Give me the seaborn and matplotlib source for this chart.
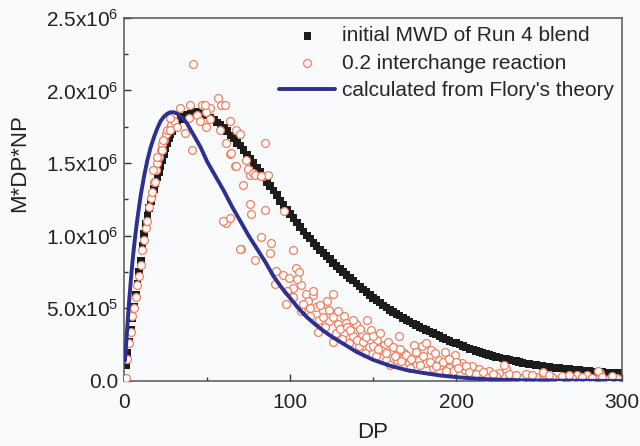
import numpy as np
import pandas as pd
import matplotlib
matplotlib.use('Agg')
import matplotlib.pyplot as plt
from matplotlib.ticker import FixedLocator
import seaborn as sns

# initial MWD of Run 4 blend (values in 1e6)
mwd_dp = list(range(1, 31)) + list(range(32, 101, 2)) + list(range(102, 301, 2))
mwd_val = [0.11, 0.19, 0.27, 0.35, 0.43, 0.51, 0.59, 0.67, 0.75, 0.83,
           0.93, 1.01, 1.08, 1.14, 1.19, 1.24, 1.28, 1.32, 1.36, 1.40,
           1.44, 1.48, 1.52, 1.56, 1.60, 1.64, 1.67, 1.70, 1.72, 1.74,
           1.77, 1.80, 1.82, 1.83, 1.84, 1.85, 1.85, 1.85, 1.84, 1.83,
           1.81, 1.80, 1.78, 1.76, 1.74, 1.72, 1.69, 1.67, 1.64, 1.62,
           1.59, 1.56, 1.53, 1.50, 1.47, 1.44, 1.41, 1.37, 1.34, 1.31,
           1.28, 1.24, 1.21, 1.18, 1.15,
           1.12, 1.09, 1.06, 1.03, 1.00, 0.98, 0.95, 0.93, 0.90, 0.88,
           0.86, 0.84, 0.81, 0.79, 0.77, 0.75, 0.73, 0.71, 0.69, 0.67,
           0.65, 0.63, 0.61, 0.59, 0.57, 0.555, 0.54, 0.52, 0.505, 0.49,
           0.475, 0.46, 0.45, 0.435, 0.42, 0.41, 0.395, 0.385, 0.37, 0.36,
           0.35, 0.34, 0.33, 0.32, 0.31, 0.295, 0.285, 0.275, 0.265, 0.26,
           0.25, 0.24, 0.23, 0.22, 0.215, 0.205, 0.20, 0.19, 0.185, 0.18,
           0.17, 0.165, 0.16, 0.155, 0.15, 0.145, 0.14, 0.135, 0.13, 0.125,
           0.121, 0.117, 0.113, 0.109, 0.105, 0.102, 0.099, 0.096, 0.093, 0.09,
           0.087, 0.085, 0.082, 0.08, 0.077, 0.075, 0.073, 0.071, 0.069, 0.067,
           0.065, 0.063, 0.062, 0.060, 0.059, 0.057, 0.056, 0.055, 0.054, 0.053]

# 0.2 interchange reaction (values in 1e6)
rx_dp = [1, 2, 3, 4, 5, 6, 7, 8, 9, 10, 11, 12, 13, 14, 15, 16, 17, 18, 19, 20,
         21, 22, 23, 24, 25, 26, 28, 30,
         33.6, 39.6, 46.6, 51.6, 56.6, 58.6, 49.6, 43.6, 45.6, 49.6, 57.6, 63.6,
         67.6, 36.6, 31.6, 27.6, 23.6, 22.6, 40.6, 61.6, 63.6, 84.6, 73.6, 66.6,
         75.6, 19.6, 17.6, 18.6, 83.6, 41.6, 60.6, 86.6, 71.6, 75.6, 76.6, 84.6,
         96.6, 61.6, 63.6, 70.6, 82.6, 88.6, 101.6, 87.6, 48.6, 51.6, 69.6, 64.6,
         74.6, 77.6, 38.8, 27.6, 67.6, 78.6, 82.6, 59.6, 69.6, 78.6,
         103.6, 105.6, 91.6, 95.6, 99.6, 90.6, 101.6, 106.6, 109.6, 113.6, 125.6,
         97.6, 110.6, 115.6, 119.6, 123.6, 132.6, 106.6, 117.6, 123.6, 128.6,
         133.6, 139.6, 146.6, 116.6, 127.6, 132.6, 137.6, 143.6, 148.6, 152.6,
         165.6, 125.6, 135.6, 141.6, 147.6, 156.6, 161.6, 168.6, 174.6, 179.6,
         151.6, 157.6, 164.6, 171.6, 177.6, 181.6, 181.6, 193.6, 199.6, 183.6,
         189.6, 203.6, 209.6, 195.6, 205.6,
         202.5, 214, 220, 226, 230, 239, 253, 262, 274, 278, 286.6, 228.6, 252.6,
         272.6, 278.6, 285.6, 210, 218, 224, 234, 244, 248, 258, 266, 270, 282,
         292, 297, 186, 172, 160, 145, 155, 168, 185, 190, 198, 200,
         98, 102, 104, 108, 112, 112, 114, 118, 120, 121, 122, 126, 129, 130,
         131, 134, 136, 138, 140, 142, 144, 146, 150, 150, 153, 154, 158, 159,
         162, 163, 166, 167, 170, 173, 176, 178, 180, 184, 187, 188, 192, 194,
         196, 201, 206, 208, 212, 216, 222, 232, 236, 242, 246, 256, 264, 268,
         276, 288, 294]
rx_val = [0.02, 0.15, 0.26, 0.34, 0.45, 0.50, 0.58, 0.66, 0.72, 0.80, 0.90, 0.97,
          1.05, 1.10, 1.20, 1.26, 1.30, 1.37, 1.45, 1.50, 1.54, 1.59, 1.63, 1.66,
          1.70, 1.73, 1.76, 1.79,
          1.88, 1.90, 1.90, 1.88, 1.95, 1.90, 1.85, 1.83, 1.79, 1.75, 1.73, 1.79,
          1.73, 1.71, 1.75, 1.73, 1.66, 1.59, 1.59, 1.64, 1.56, 1.64, 1.52, 1.48,
          1.42, 1.54, 1.45, 1.37, 1.41, 2.18, 1.90, 1.42, 1.35, 1.22, 1.15, 1.18,
          1.17, 1.09, 1.12, 0.91, 0.99, 0.95, 0.90, 0.88, 1.90, 1.80, 1.70, 1.57,
          1.46, 1.43, 1.81, 1.81, 1.48, 1.42, 1.41, 1.10, 0.91, 0.83,
          0.78, 0.75, 0.76, 0.73, 0.71, 0.67, 0.64, 0.66, 0.60, 0.59, 0.60,
          0.53, 0.55, 0.51, 0.48, 0.49, 0.45, 0.48, 0.42, 0.41, 0.39,
          0.40, 0.39, 0.42, 0.34, 0.33, 0.33, 0.31, 0.32, 0.35, 0.28,
          0.31, 0.27, 0.26, 0.24, 0.23, 0.25, 0.20, 0.19, 0.25, 0.24,
          0.17, 0.145, 0.145, 0.12, 0.145, 0.12, 0.26, 0.20, 0.18, 0.17,
          0.145, 0.12, 0.10, 0.09, 0.076,
          0.105, 0.08, 0.07, 0.057, 0.08, 0.02, 0.045, 0.015, 0.02, 0.015, 0.052,
          0.11, 0.064, 0.04, 0.04, 0.069, 0.04, 0.03, 0.035, 0.03, 0.025, 0.03,
          0.03, 0.025, 0.02, 0.02, 0.015, 0.02, 0.09, 0.09, 0.11, 0.19, 0.21,
          0.16, 0.21, 0.11, 0.07, 0.13,
          0.62, 0.58, 0.70, 0.53, 0.50, 0.45, 0.62, 0.52, 0.44, 0.37, 0.55, 0.44,
          0.48, 0.36, 0.29, 0.37, 0.35, 0.42, 0.28, 0.36, 0.27, 0.30, 0.24, 0.31,
          0.22, 0.33, 0.19, 0.27, 0.23, 0.17, 0.22, 0.14, 0.18, 0.15, 0.20, 0.11,
          0.17, 0.13, 0.19, 0.10, 0.13, 0.07, 0.15, 0.09, 0.10, 0.06, 0.05, 0.06,
          0.05, 0.05, 0.04, 0.045, 0.04, 0.04, 0.035, 0.04, 0.03, 0.03, 0.035]

# calculated from Flory's theory (values in 1e6)
flory_dp = [0.5, 1, 2, 3, 4, 5, 6, 7, 8, 10, 12, 14, 16, 18, 20, 22, 24, 26, 28,
            30, 32, 34, 36, 38, 40, 42, 44, 46, 48, 50, 55, 60, 65, 70, 75, 80,
            85, 90, 95, 100, 105, 110, 115, 120, 125, 130, 135, 140, 150, 160,
            170, 180, 190, 200, 210, 220, 230, 240, 260, 280, 300]
flory_val = [0.14, 0.22, 0.39, 0.55, 0.69, 0.82, 0.93, 1.03, 1.12, 1.28, 1.41,
             1.52, 1.61, 1.68, 1.74, 1.79, 1.82, 1.84, 1.85, 1.85, 1.84, 1.82,
             1.80, 1.77, 1.73, 1.69, 1.65, 1.61, 1.56, 1.51, 1.41, 1.31, 1.20,
             1.10, 1.00, 0.91, 0.82, 0.72, 0.64, 0.57, 0.50, 0.44, 0.39, 0.345,
             0.305, 0.27, 0.235, 0.20, 0.145, 0.105, 0.075, 0.055, 0.038, 0.026,
             0.017, 0.011, 0.007, 0.004, 0.002, 0.001, 0.0]

x_ticks = [0, 100, 200, 300]
x_labels = ['0', '100', '200', '300']
y_ticks = [0, 0.5e6, 1.0e6, 1.5e6, 2.0e6, 2.5e6]
y_labels = ['0.0', r'5.0x10$^5$', r'1.0x10$^6$', r'1.5x10$^6$',
            r'2.0x10$^6$', r'2.5x10$^6$']

mwd = pd.DataFrame({'DP': mwd_dp, 'y': np.array(mwd_val) * 1e6})
rx = pd.DataFrame({'DP': rx_dp, 'y': np.array(rx_val) * 1e6})
flory = pd.DataFrame({'DP': flory_dp, 'y': np.array(flory_val) * 1e6})

sns.set_style('ticks')
plt.rcParams['font.family'] = ['Liberation Sans', 'DejaVu Sans']
plt.rcParams['mathtext.fontset'] = 'custom'
plt.rcParams['mathtext.rm'] = 'Liberation Sans'
plt.rcParams['mathtext.default'] = 'regular'

bg = '#f9fafc'
fig = plt.figure(figsize=(6.4, 4.46), dpi=100, facecolor=bg)
ax = fig.add_axes([0.194, 0.146, 0.778, 0.814], facecolor=bg)

sns.scatterplot(data=mwd, x='DP', y='y', ax=ax, marker='s', s=30, color='#1c1c1c',
                edgecolor='none', label='initial MWD of Run 4 blend', zorder=2)
sns.scatterplot(data=rx, x='DP', y='y', ax=ax, marker='o', s=32, facecolor='white',
                edgecolor='#ef8060', linewidth=0.9, label='0.2 interchange reaction', zorder=3)
sns.lineplot(data=flory, x='DP', y='y', ax=ax, color='#2d2f91', linewidth=2.8,
             label="calculated from Flory's theory", zorder=4)

ax.set_xlim(0, 300)
ax.set_ylim(0, 2.5e6)
ax.xaxis.set_major_locator(FixedLocator(x_ticks))
ax.xaxis.set_minor_locator(FixedLocator([50, 150, 250]))
ax.yaxis.set_major_locator(FixedLocator(y_ticks))
ax.yaxis.set_minor_locator(FixedLocator([0.25e6, 0.75e6, 1.25e6, 1.75e6, 2.25e6]))
ax.set_xticklabels(x_labels)
ax.set_yticklabels(y_labels)
ax.tick_params(which='major', direction='in', length=5, width=1, colors='#333333',
               labelsize=15, labelcolor='#222222', top=False, right=False)
ax.tick_params(axis='x', which='major', pad=9)
ax.tick_params(axis='y', which='major', pad=4)
ax.tick_params(which='minor', direction='in', length=3, width=1, colors='#333333',
               top=False, right=False)
for sp in ax.spines.values():
    sp.set_visible(True)
    sp.set_color('#555555')
    sp.set_linewidth(1.1)

ax.set_xlabel('DP', fontsize=16, color='#222222')
ax.set_ylabel('M*DP*NP', fontsize=16, color='#222222')
ax.xaxis.set_label_coords(0.5, -0.112)
ax.yaxis.set_label_coords(-0.188, 0.6)

ax.legend(loc='upper right', frameon=False, fontsize=15, handlelength=2.7,
          handletextpad=0.3, labelspacing=0.4, borderaxespad=0.0,
          bbox_to_anchor=(1.0, 1.0))

fig.savefig('out.png', dpi=100, facecolor=bg)
